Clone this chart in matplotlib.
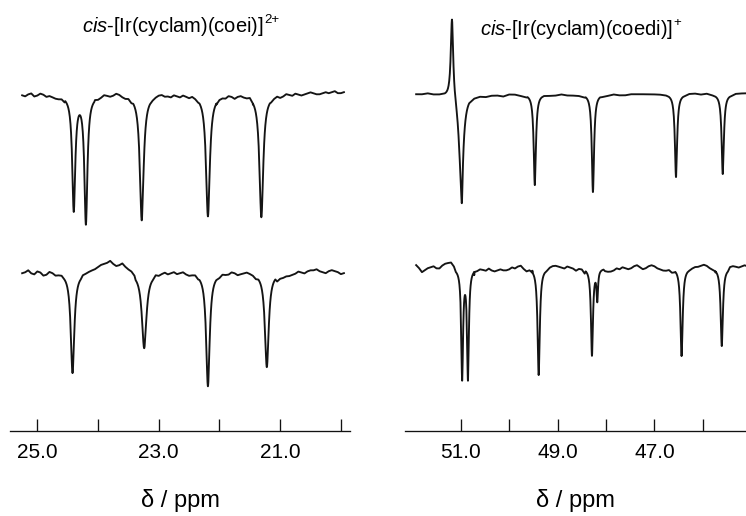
import numpy as np
import matplotlib
matplotlib.use('Agg')
import matplotlib.pyplot as plt

plt.rcParams['font.family'] = ['Liberation Sans', 'DejaVu Sans']
plt.rcParams['mathtext.fontset'] = 'custom'
plt.rcParams['mathtext.rm'] = 'Liberation Sans'
plt.rcParams['mathtext.it'] = 'Liberation Sans:italic'

# ---------------- data ----------------
left_title = r'$\mathit{cis}$-[Ir(cyclam)(coei)]'
left_title_sup = '2+'
right_title = r'$\mathit{cis}$-[Ir(cyclam)(coedi)]'
right_title_sup = '+'
xlabel_text = 'δ / ppm'

left_major_ticks = [25.0, 23.0, 21.0]
left_major_labels = ['25.0', '23.0', '21.0']
left_minor_ticks = [24.0, 22.0, 20.0]
right_major_ticks = [51.0, 49.0, 47.0]
right_major_labels = ['51.0', '49.0', '47.0']
right_minor_ticks = [50.0, 48.0, 46.0]

# baseline sampling (ppm) of the read baseline wiggle
left_grid_start, left_grid_step = 25.25, 0.05
ru_grid_start, ru_grid_step = 51.92, 0.12
rl_grid_start, rl_grid_step = 51.92, 0.06

# left upper trace (coei, top)
lu_peak_ppm = [24.40, 24.20, 23.28, 22.19, 21.31]
lu_peak_amp = [-114, -127, -125, -121, -122]
lu_peak_fwhm = [0.06, 0.06, 0.075, 0.075, 0.075]
lu_noise = [0, -1, 1, 2, -1, 0, 2, 1, -1, 0, -1, -2, -2, -1, -2, -3, 0, 0, 0, 0,
            0, 0, 0, 0, 1, -1, 0, 2, 1, 0, 1, 3, 2, 0, -1, 0, -2, -1, 0, 1,
            0, -2, -1, 0, 1, 2, 2, 0, 0, -1, 1, 0, -1, 1, 0, -1, 1, 0, -1, 1,
            0, -1, 0, 1, -1, 0, 0, -1, 1, 0, -2, 0, 1, 0, 0, 2, -1, 0, 0, 1,
            0, 1, -1, 0, 1, -1, 0, 2, 1, 0, 2, 1, 0, 1, 2, 3, 2, 1, 1, 2,
            3, 2, 3, 4, 2, 2, 3]

# left lower trace (coei, bottom)
ll_peak_ppm = [24.42, 23.24, 22.19, 21.22]
ll_peak_amp = [-100, -75, -113, -94]
ll_peak_fwhm = [0.07, 0.09, 0.07, 0.075]
ll_noise = [0, 1, 3, 0, -1, 2, 1, -2, -1, 2, 1, -1, 0, 1, -1, 0, 0, 0, 0, 1,
            2, 2, 3, 4, 5, 7, 9, 10, 11, 13, 10, 8, 9, 11, 8, 6, 5, 3, 1, 0,
            0, 0, 1, 3, 2, 0, 1, 2, 0, 1, 2, 0, 1, 2, 0, -1, 0, 1, -1, 0,
            0, -1, 0, 2, 0, -1, 1, 0, 0, 2, 1, -1, 0, 1, 2, 1, 0, -2, -1, 0,
            0, -3, -4, -5, -4, -3, -3, -2, -2, -1, 0, 2, 1, 0, 2, 3, 3, 4, 2, 1,
            0, 2, 3, 2, 1, -1, 0]

# right upper trace (coedi, top)
ru_peak_ppm = [51.18, 50.99, 50.975, 49.47, 48.27, 46.555, 45.59]
ru_peak_amp = [82, -80, -35, -91, -98, -83, -80]
ru_peak_fwhm = [0.06, 0.12, 0.035, 0.055, 0.055, 0.055, 0.055]
ru_noise = [0, 0, 1, 0, 0, 1, 0, 0, 0, 0, -1, -1, -2, -1, -1, -2, 0, 0, -1, -1,
            0, 0, 0, -1, -1, 0, -1, -1, -1, -1, 0, 0, -1, -1, 0, -1, -1, 0, 0, 0,
            0, 0, 0, 0, -1, 0, 0, 1, 1, 0, 1, 0, -1, 0, 0, 1, 1, 1]

# right lower trace (coedi, bottom)
rl_peak_ppm = [50.97, 50.85, 49.39, 48.29, 48.18, 46.44, 45.61]
rl_peak_amp = [-109, -109, -107, -87, -30, -88, -78]
rl_peak_fwhm = [0.045, 0.045, 0.055, 0.05, 0.035, 0.055, 0.055]
rl_noise = [3, 0, -4, -2, 0, 1, 2, 0, 0, 3, 5, 6, 7, 4, 3, 0, 0, 0, 0, -1,
            -3, -1, 0, -1, -2, 0, -2, -3, -2, -1, -2, -2, -1, 1, 0, 2, 3, 0, -2, 0,
            2, 1, 0, -1, -4, 0, 2, 3, 3, 2, 1, 0, 2, 1, 0, -2, 0, 0, -3, 0,
            0, -1, 0, -2, -3, -2, -3, -3, -2, 0, -1, 1, 0, -1, 0, 2, 3, 1, -1, 0,
            2, 3, 2, 0, -1, -2, -2, -1, -3, -1, 0, 1, 0, -1, 0, 1, 2, 2, 3, 4,
            3, 1, 0, -1, 0, 1, 0, 2, 3, 3, 2, 1, 2, 3, 2]

# ---------------- layout (pixels) ----------------
W, H = 746, 516
AXIS_Y = 431
LEFT_AX = (10, 350, 25.45, 19.85)
RIGHT_AX = (405, 746, 52.15, 45.11)
LU_BASE, LL_BASE = 95, 273
RU_BASE, RL_BASE = 94, 268
LINE_COLOR = '#141414'


def build_trace(start, step, noise, centers, amps, fwhms, win):
    noise = np.asarray(noise, float)
    grid = start - step * np.arange(len(noise))
    centers = np.asarray(centers, float)
    near = np.any(np.abs(grid[:, None] - centers[None, :]) < win, axis=1)
    dense = np.concatenate([np.linspace(c - win, c + win, 121) for c in centers])
    x = np.concatenate([grid[~near], dense])
    d = np.concatenate([noise[~near], np.zeros(len(dense))])
    keep = (x <= grid.max()) & (x >= grid.min())
    x, d = x[keep], d[keep]
    order = np.argsort(x)
    x, d = x[order], d[order]
    y = d.copy()
    for c, a, w in zip(centers, amps, fwhms):
        hw = w / 2.0
        y += a * hw ** 2 / ((x - c) ** 2 + hw ** 2)
    return x, y


fig = plt.figure(figsize=(W / 100, H / 100), dpi=100)


def make_axes(spec):
    x0, x1, lo, hi = spec
    ax = fig.add_axes([x0 / W, (H - AXIS_Y) / H, (x1 - x0) / W, AXIS_Y / H])
    ax.set_xlim(lo, hi)
    ax.set_ylim(-AXIS_Y, 0)
    for s in ('top', 'left', 'right'):
        ax.spines[s].set_visible(False)
    ax.spines['bottom'].set_linewidth(0.95)
    ax.spines['bottom'].set_color('#111111')
    ax.set_yticks([])
    ax.patch.set_alpha(0)
    return ax


axL = make_axes(LEFT_AX)
axR = make_axes(RIGHT_AX)

for ax, base, args, win in [
    (axL, LU_BASE, (left_grid_start, left_grid_step, lu_noise, lu_peak_ppm, lu_peak_amp, lu_peak_fwhm), 0.14),
    (axL, LL_BASE, (left_grid_start, left_grid_step, ll_noise, ll_peak_ppm, ll_peak_amp, ll_peak_fwhm), 0.14),
    (axR, RU_BASE, (ru_grid_start, ru_grid_step, ru_noise, ru_peak_ppm, ru_peak_amp, ru_peak_fwhm), 0.15),
    (axR, RL_BASE, (rl_grid_start, rl_grid_step, rl_noise, rl_peak_ppm, rl_peak_amp, rl_peak_fwhm), 0.13),
]:
    x, y = build_trace(*args, win)
    ax.plot(x, y - base, color=LINE_COLOR, lw=1.35, solid_joinstyle='round')

for ax, maj, lab, mnr in [(axL, left_major_ticks, left_major_labels, left_minor_ticks),
                          (axR, right_major_ticks, right_major_labels, right_minor_ticks)]:
    ax.set_xticks(maj)
    ax.set_xticklabels(lab)
    ax.set_xticks(mnr, minor=True)
    ax.tick_params(axis='x', which='both', direction='in', length=8.6, width=0.95,
                   color='#111111', pad=8.5, labelsize=15)
    ax.set_xlabel(xlabel_text, fontsize=17, labelpad=19.5)

renderer = fig.canvas.get_renderer()


def title_with_sup(main, sup, cx, base_y):
    t = fig.text(0, 1 - base_y / H, main, ha='left', va='baseline', fontsize=14.5)
    s = fig.text(0, 1 - (base_y - 9) / H, sup, ha='left', va='baseline', fontsize=9.5)
    wm = t.get_window_extent(renderer).width
    ws = s.get_window_extent(renderer).width
    x0 = cx - (wm + 1 + ws) / 2
    t.set_x(x0 / W)
    s.set_x((x0 + wm + 1) / W)


title_with_sup(left_title, left_title_sup, 180.5, 32)
title_with_sup(right_title, right_title_sup, 580.5, 35)

fig.savefig('out.png', dpi=100)
